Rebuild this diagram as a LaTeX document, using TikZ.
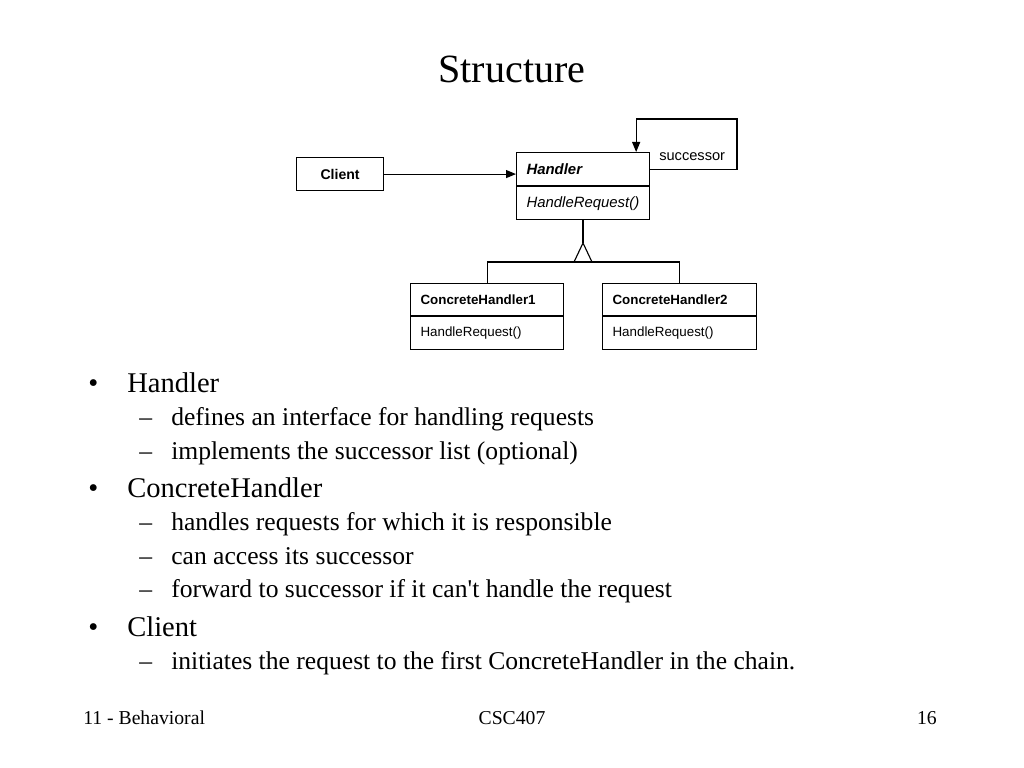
\documentclass[tikz,border=0pt]{standalone}
\usepackage{fontspec}
\setmainfont{Liberation Serif}
\setsansfont{Liberation Sans}
\usetikzlibrary{arrows.meta}

\tikzset{
  classpart/.style={draw, line width=0.8pt, inner xsep=0.25cm, inner ysep=0pt,
    align=left, anchor=north west, font=\sffamily\fontsize{9.5}{10}\selectfont},
  assoc/.style={line width=0.8pt, -{Triangle[length=0.25cm, width=0.2cm]}},
  uml/.style={line width=0.8pt},
  mainitem/.style={anchor=base west, inner sep=0pt, font=\fontsize{20.3}{24}\selectfont},
  subitem/.style={anchor=base west, inner sep=0pt, font=\fontsize{18.2}{21}\selectfont},
  footer/.style={anchor=base, inner sep=0pt, font=\fontsize{14}{16}\selectfont}
}

\begin{document}
\begin{tikzpicture}[x=0.025cm, y=-0.025cm]
				\useasboundingbox [fill=white] (0,0) rectangle (1024,768);
				% title
				\node [anchor=base, inner sep=0pt, font=\fontsize{28.5}{32}\selectfont] (title) at (512,83) {Structure};
				% classes
				\node [classpart, align=center, minimum width=2.175cm, minimum height=0.825cm, text width=1.675cm, font=\sffamily\bfseries\fontsize{10}{11}\selectfont] (client) at (296,157) {Client};
				\node [classpart, minimum height=0.825cm, text width=2.825cm, font=\sffamily\fontsize{10.6}{11}\selectfont] (handler) at (516,152) {\textbf{\textit{Handler}}};
				\node [classpart, minimum height=0.825cm, text width=2.825cm, font=\sffamily\fontsize{10.6}{11}\selectfont] (handlerops) at (handler.south west) {\textit{HandleRequest()}};
				\node [classpart, minimum height=0.8cm, text width=3.325cm] (ch1) at (410,283) {\textbf{ConcreteHandler1}};
				\node [classpart, minimum height=0.825cm, text width=3.325cm] (ch1ops) at (ch1.south west) {HandleRequest()};
				\node [classpart, minimum height=0.8cm, text width=3.35cm] (ch2) at (602,283) {\textbf{ConcreteHandler2}};
				\node [classpart, minimum height=0.825cm, text width=3.35cm] (ch2ops) at (ch2.south west) {HandleRequest()};
				% connectors
				\draw [assoc] (client.east) -- (client.east -| handler.west);
				\coordinate (loop) at (737,119);
				\draw [assoc] (handler.east) -| (loop) -| ([xshift=-0.35cm]handler.north east);
				\node [anchor=west, inner sep=0pt, font=\sffamily\fontsize{10.4}{11}\selectfont] (succ) at (659,157) {successor};
				\coordinate (tip) at (583,243);
				\coordinate (bar) at (583,262);
				\draw [uml] (handlerops.south -| tip) -- (tip);
				\draw [uml] (574,262) -- (tip) -- (592,262);
				\draw [uml] (ch1.north) |- (bar) -| (ch2.north);
				% bullets
				\node [mainitem] (b1) at (88,392) {\textbullet};
				\node [mainitem] (t1) at (127,392) {Handler};
				\node [subitem] (d11) at (139,425) {--};
				\node [subitem] (t11) at (171,425) {defines an interface for handling requests};
				\node [subitem] (d12) at (139,459) {--};
				\node [subitem] (t12) at (171,459) {implements the successor list (optional)};
				\node [mainitem] (b2) at (88,497) {\textbullet};
				\node [mainitem] (t2) at (127,497) {ConcreteHandler};
				\node [subitem] (d21) at (139,530) {--};
				\node [subitem] (t21) at (171,530) {handles requests for which it is responsible};
				\node [subitem] (d22) at (139,564) {--};
				\node [subitem] (t22) at (171,564) {can access its successor};
				\node [subitem] (d23) at (139,597) {--};
				\node [subitem] (t23) at (171,597) {forward to successor if it can\textquotesingle t handle the request};
				\node [mainitem] (b3) at (88,636) {\textbullet};
				\node [mainitem] (t3) at (127,636) {Client};
				\node [subitem] (d31) at (139,669) {--};
				\node [subitem] (t31) at (171,669) {initiates the request to the first ConcreteHandler in the chain.};
				% footer
				\node [footer, anchor=base west] (f1) at (83,724) {11 - Behavioral};
				\node [footer] (f2) at (512,724) {CSC407};
				\node [footer, anchor=base east] (f3) at (937,724) {16};
			\end{tikzpicture}
\end{document}
